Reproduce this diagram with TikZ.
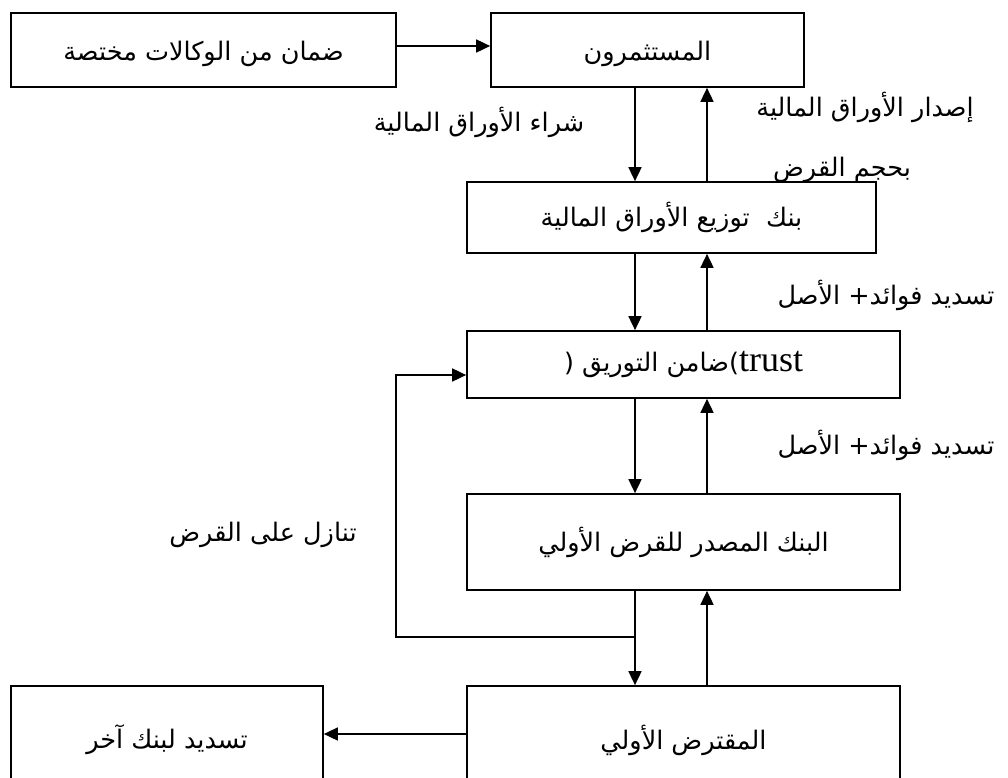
\documentclass[tikz,border=0pt]{standalone}
\usepackage{fontspec}
\usetikzlibrary{arrows.meta}
\newfontfamily\arabicfont[Script=Arabic]{DejaVu Sans}
\newfontfamily\latinserif{Liberation Serif}
\TeXXeTstate=1
\begin{document}
\begin{tikzpicture}[x=1pt,y=-1pt,
  box/.style={draw,line width=1.7pt,inner sep=0pt,font=\arabicfont\fontsize{25.5}{30}\selectfont},
  lowtext/.style={text height=28pt,text depth=7pt},
  lbl/.style={inner sep=0pt,font=\arabicfont\fontsize{25.5}{30}\selectfont},
  arr/.style={line width=1.7pt,-{Triangle[length=14pt,width=13pt]}},
  ln/.style={line width=1.7pt}]
\useasboundingbox (0,0) rectangle (1008,778);
\clip (0,0) rectangle (1008,778);

% boxes
\node[box,lowtext,minimum width=385pt,minimum height=74pt] (b1) at (203.5,50) {\beginR ضمان من الوكالات مختصة\endR};
\node[box,lowtext,minimum width=313pt,minimum height=74pt] (b2) at (647.5,50) {\beginR المستثمرون\endR};
\node[box,minimum width=409pt,minimum height=71pt] (b3) at (671.5,217.5) {\beginR بنك~ توزيع الأوراق المالية\endR};
\node[box,minimum width=433pt,minimum height=67pt] (b4) at (683.5,364.5) {( {\beginR ضامن التوريق\endR}){\latinserif\fontsize{36}{40}\selectfont trust}};
\node[box,minimum width=433pt,minimum height=96pt] (b5) at (683.5,542) {\beginR البنك المصدر للقرض الأولي\endR};
\node[box,minimum width=433pt,minimum height=108pt] (b6) at (683.5,740) {\beginR المقترض الأولي\endR};
\node[box,minimum width=312pt,minimum height=108pt] (b7) at (167,740) {\beginR تسديد لبنك آخر\endR};

% helper coordinates
\coordinate (dx) at (635,0);
\coordinate (ux) at (707,0);
\coordinate (h1) at (0,46);
\coordinate (h2) at (0,734);
\coordinate (j) at (635,637);
\coordinate (lp) at (396,375);

% connectors
\draw[arr] (b1.east |- h1) -- (b2.west |- h1);
\draw[arr] (b2.south -| dx) -- (b3.north -| dx);
\draw[arr] (b3.north -| ux) -- (b2.south -| ux);
\draw[arr] (b3.south -| dx) -- (b4.north -| dx);
\draw[arr] (b4.north -| ux) -- (b3.south -| ux);
\draw[arr] (b4.south -| dx) -- (b5.north -| dx);
\draw[arr] (b5.north -| ux) -- (b4.south -| ux);
\draw[arr] (b5.south -| dx) -- (b6.north -| dx);
\draw[arr] (b6.north -| ux) -- (b5.south -| ux);
\draw[arr] (j) -| (lp) -- (lp -| b4.west);
\draw[arr] (b6.west |- h2) -- (b7.east |- h2);

% labels
\node[lbl] (l1) at (479,122) {\beginR شراء الأوراق المالية\endR};
\node[lbl] (l2) at (865,107) {\beginR إصدار الأوراق المالية\endR};
\node[lbl] (l3) at (842,170) {\beginR بحجم القرض\endR};
\node[lbl] (l4) at (886,295) {\beginR تسديد فوائد+ الأصل\endR};
\node[lbl] (l5) at (886,445) {\beginR تسديد فوائد+ الأصل\endR};
\node[lbl] (l6) at (263,535) {\beginR تنازل على القرض\endR};
\end{tikzpicture}
\end{document}
